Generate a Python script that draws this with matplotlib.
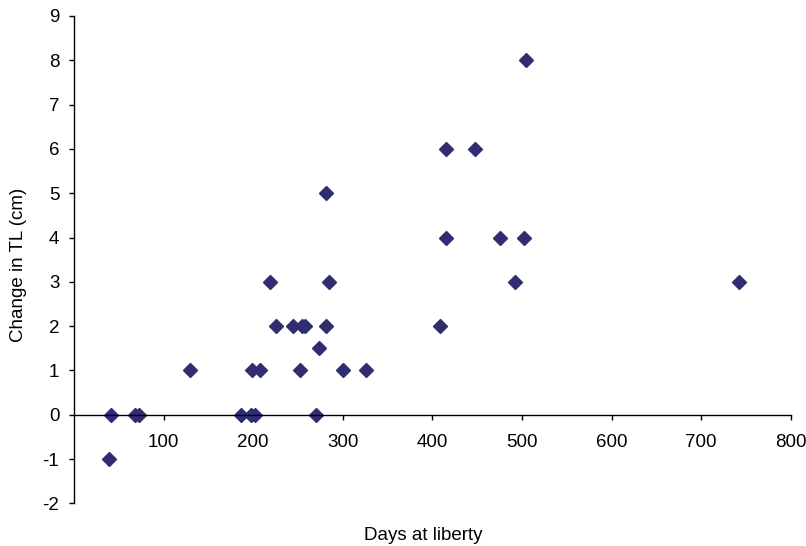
import matplotlib.pyplot as plt
import numpy as np

plt.rcParams['font.family'] = ['Liberation Sans', 'DejaVu Sans']
plt.rcParams['axes.unicode_minus'] = False

# days at liberty vs change in total length
days = [39, 41, 68, 72, 186, 198, 202, 270,
        130, 199, 208, 252, 300, 326,
        273,
        225, 244, 255, 258, 281, 409,
        219, 285, 492, 742,
        415, 475, 502,
        281,
        415, 448,
        504]
change_tl = [-1, 0, 0, 0, 0, 0, 0, 0,
             1, 1, 1, 1, 1, 1,
             1.5,
             2, 2, 2, 2, 2, 2,
             3, 3, 3, 3,
             4, 4, 4,
             5,
             6, 6,
             8]

x_ticks = [100, 200, 300, 400, 500, 600, 700, 800]
y_ticks = list(range(-2, 10))

fig = plt.figure(figsize=(8.06, 5.46), dpi=100)
ax = fig.add_axes([0.0918, 0.0782, 0.8893, 0.8925])

ax.plot(days, change_tl, linestyle='none', marker='D', markersize=7,
        color='#302D70', markeredgecolor='#302D70')

ax.set_xlim(0, 800)
ax.set_ylim(-2, 9)
ax.set_xticks(x_ticks)
ax.set_yticks(y_ticks)

ax.spines['top'].set_visible(False)
ax.spines['right'].set_visible(False)
ax.spines['bottom'].set_position(('data', 0))
for s in ['left', 'bottom']:
    ax.spines[s].set_linewidth(1.0)
    ax.spines[s].set_color('black')

ax.tick_params(axis='x', direction='out', length=3.6, width=1, pad=10, labelsize=13.5)
ax.tick_params(axis='y', direction='out', length=3.6, width=1, pad=7, labelsize=13.5)

fig.text(423 / 806, 1 - 536 / 546, 'Days at liberty', ha='center', va='center', fontsize=13.5)
fig.text(19 / 806, 1 - 265 / 546, 'Change in TL (cm)', ha='center', va='center',
         rotation=90, fontsize=13.5)

fig.savefig('out.png', dpi=100)
